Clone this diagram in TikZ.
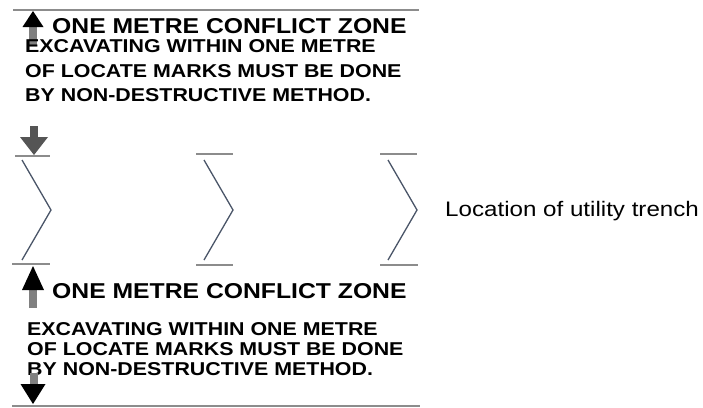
\documentclass[tikz,border=0pt]{standalone}
\usepackage{fontspec}
\setmainfont{Liberation Sans}
\newfontfamily\signfont[FakeStretch=1.15]{Liberation Sans}
\usetikzlibrary{arrows.meta,positioning}

\definecolor{rulegray}{HTML}{8C8C8C}
\definecolor{shaftgray}{HTML}{808080}
\definecolor{headgray}{HTML}{555555}
\definecolor{trenchblue}{HTML}{4A5568}

\begin{document}
\begin{tikzpicture}[
  x=1pt, y=-1pt,
  rule/.style={draw=rulegray, line width=2pt},
  trench/.style={draw=trenchblue, line width=1.3pt},
  zone/.style={inner sep=0pt, anchor=base west, font=\signfont\bfseries\fontsize{21.5}{24}\selectfont},
  warn/.style={inner sep=0pt, anchor=base west, font=\signfont\bfseries\fontsize{18.6}{22}\selectfont},
  shaft/.style={draw=shaftgray, line width=8pt},
  shaftdark/.style={draw=headgray, line width=8pt},
  tip/.style={fill=black},
  tipgrey/.style={fill=headgray}
]
\useasboundingbox (0,0) rectangle (703,407);

% upper conflict zone
\path[rule] (13,9.5) -- (419,9.5);
\coordinate (uptip) at (33,11);
\path[shaft] (33,45) -- (33,25);
\fill[tip] (uptip) -- ++(10.5,16) -- ++(-21,0) -- cycle;
\node[zone] (zonetop) at (52,33) {ONE METRE CONFLICT ZONE};
\node[warn] (warntopa) at (25,52) {EXCAVATING WITHIN ONE METRE};
\node[warn] (warntopb) at (25,77) {OF LOCATE MARKS MUST BE DONE};
\node[warn] (warntopc) at (25,101) {BY NON-DESTRUCTIVE METHOD.};
\coordinate (downtip) at (34,155);
\path[shaftdark] (34,126) -- (34,139);
\fill[tipgrey] (downtip) -- ++(14,-18) -- ++(-28,0) -- cycle;

% trench edges
\path[rule] (15,156) -- (50,156);
\path[rule] (196,154) -- (233,154);
\path[rule] (380,154) -- (417,154);
\path[trench] (22,160) -- (51,210) -- (22,260);
\path[trench] (204,160) -- (233,210) -- (204,260);
\path[trench] (388,160) -- (417,210) -- (388,260);
\path[rule] (12,264) -- (50,264);
\path[rule] (196,265) -- (233,265);
\path[rule] (380,265) -- (418,265);
\node[inner sep=0pt, anchor=west, font=\signfont\fontsize{21}{24}\selectfont] (trenchlbl) at (445,211) {Location of utility trench};

% lower conflict zone
\coordinate (lowuptip) at (33,266);
\path[shaft] (33,308) -- (33,286);
\fill[tip] (lowuptip) -- ++(11,24) -- ++(-22,0) -- cycle;
\node[zone] (zonebot) at (52,298) {ONE METRE CONFLICT ZONE};
\node[warn] (warnbota) at (27,335) {EXCAVATING WITHIN ONE METRE};
\node[warn] (warnbotb) at (27,355) {OF LOCATE MARKS MUST BE DONE};
\node[warn] (warnbotc) at (27,375) {BY NON-DESTRUCTIVE METHOD.};
\coordinate (lowdowntip) at (33,404);
\path[shaft] (34,373) -- (34,387);
\fill[tip] (lowdowntip) -- ++(12.5,-20) -- ++(-25,0) -- cycle;
\path[rule] (12,405.5) -- (420,405.5);

\end{tikzpicture}
\end{document}
